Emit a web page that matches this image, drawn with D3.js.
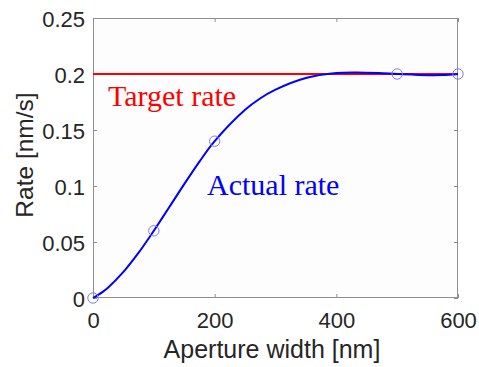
<!DOCTYPE html>
<html>
<head>
<meta charset="utf-8">
<script src="https://cdn.jsdelivr.net/npm/d3@7"></script>
<style>
  html, body { margin: 0; padding: 0; background: #fff; }
  svg { display: block; }
</style>
</head>
<body>
<svg id="chart" width="479" height="367"></svg>
<script>
// ---- data ----
const markerX = [0, 100, 200, 500, 600];
const markerY = [0, 0.06, 0.14, 0.2, 0.2];
const curveX = [0, 16, 25, 50, 75, 90, 100, 125, 150, 175, 200, 250, 274, 300, 350, 400, 433, 470, 500, 550, 575, 600];
const curveY = [0, 0.0055, 0.0094, 0.0233, 0.0405, 0.052, 0.06, 0.0808, 0.1017, 0.1218, 0.14, 0.168, 0.1779, 0.186, 0.1964, 0.2008, 0.2013, 0.2008, 0.2, 0.1989, 0.199, 0.2];
const targetX = [0, 600];
const targetY = [0.2, 0.2];
const xTicks = [0, 200, 400, 600];
const yTicks = [0, 0.05, 0.1, 0.15, 0.2, 0.25];
const yTickLabels = ["0", "0.05", "0.1", "0.15", "0.2", "0.25"];

// ---- layout ----
const L = 93, T = 18, W = 365, H = 280;
const svg = d3.select("#chart");
const x = d3.scaleLinear().domain([0, 600]).range([L, L + W]);
const y = d3.scaleLinear().domain([0, 0.25]).range([T + H, T]);
const sans = "'Liberation Sans', Arial, Helvetica, sans-serif";
const serif = "'Liberation Serif', 'Times New Roman', Times, serif";
const axisColor = "#8f8f8f";
const textColor = "#262626";

// plot background
svg.append("rect").attr("x", L).attr("y", T).attr("width", W).attr("height", H).attr("fill", "#fdfdfd");

// axes
const xAxis = svg.append("g").attr("transform", `translate(0,${T + H})`)
  .call(d3.axisBottom(x).tickValues(xTicks).tickSizeInner(-4).tickSizeOuter(0).tickPadding(14));
const xAxisTop = svg.append("g").attr("transform", `translate(0,${T})`)
  .call(d3.axisTop(x).tickValues(xTicks).tickSizeInner(-4).tickSizeOuter(0).tickFormat(""));
const yAxis = svg.append("g").attr("transform", `translate(${L},0)`)
  .call(d3.axisLeft(y).tickValues(yTicks).tickSizeInner(-4).tickSizeOuter(0).tickPadding(8)
    .tickFormat((d, i) => yTickLabels[i]));
const yAxisRight = svg.append("g").attr("transform", `translate(${L + W},0)`)
  .call(d3.axisRight(y).tickValues(yTicks).tickSizeInner(-4).tickSizeOuter(0).tickFormat(""));

[xAxis, xAxisTop, yAxis, yAxisRight].forEach(g => {
  g.select(".domain").remove();
  g.selectAll(".tick line").attr("stroke", axisColor).attr("stroke-width", 1);
  g.selectAll(".tick text").attr("fill", textColor).style("font-family", sans).style("font-size", "22px");
});
yAxis.selectAll(".tick text").attr("dy", "0.4em");

// box
svg.append("rect").attr("x", L + 0.5).attr("y", T + 0.5).attr("width", W - 1).attr("height", H - 1)
  .attr("fill", "none").attr("stroke", axisColor).attr("stroke-width", 1);

// target line
const line = d3.line().x(d => x(d[0])).y(d => y(d[1]));
svg.append("path").datum(targetX.map((v, i) => [v, targetY[i]]))
  .attr("d", line).attr("fill", "none").attr("stroke", "#ff0000").attr("stroke-width", 2);

// actual curve
const curveLine = d3.line().x(d => x(d[0])).y(d => y(d[1])).curve(d3.curveCatmullRom.alpha(0.5));
svg.append("path").datum(curveX.map((v, i) => [v, curveY[i]]))
  .attr("d", curveLine).attr("fill", "none").attr("stroke", "#0000ff").attr("stroke-width", 2);

// markers
svg.append("g").selectAll("circle").data(markerX.map((v, i) => [v, markerY[i]])).join("circle")
  .attr("cx", d => x(d[0])).attr("cy", d => y(d[1])).attr("r", 5.2)
  .attr("fill", "none").attr("stroke", "#7b7bff").attr("stroke-width", 1);

// annotations
svg.append("text").attr("x", 108).attr("y", 105.5).text("Target rate")
  .attr("fill", "#ff0000").style("font-family", serif).style("font-size", "30px");
svg.append("text").attr("x", 207).attr("y", 195).text("Actual rate")
  .attr("fill", "#0000ff").style("font-family", serif).style("font-size", "30px");

// axis labels
svg.append("text").attr("x", 272).attr("y", 358).attr("text-anchor", "middle").text("Aperture width [nm]")
  .attr("fill", textColor).style("font-family", sans).style("font-size", "25px");
svg.append("text").attr("transform", "translate(33,155) rotate(-90)").attr("text-anchor", "middle")
  .text("Rate [nm/s]").attr("fill", textColor).style("font-family", sans).style("font-size", "24.5px");
</script>
</body>
</html>
